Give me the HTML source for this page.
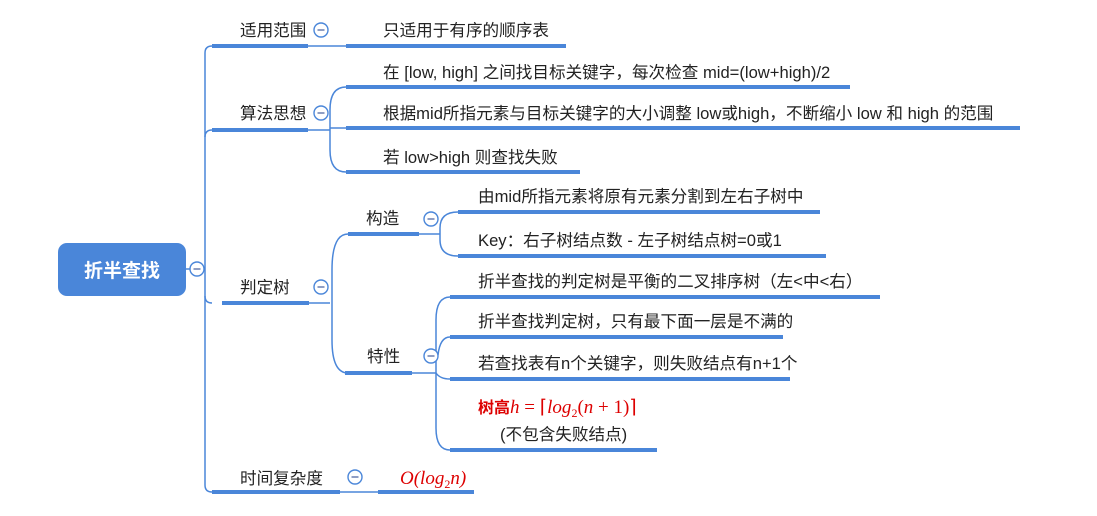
<!DOCTYPE html>
<html><head><meta charset="utf-8"><style>
html,body{margin:0;padding:0;background:#fff;}
svg text{font-family:"Liberation Sans","Noto Sans CJK SC",sans-serif;font-size:16.6px;fill:#222;}
</style></head><body>
<svg width="1097" height="511" viewBox="0 0 1097 511" xmlns="http://www.w3.org/2000/svg">
<g fill="none" stroke="#4a86d9" stroke-width="1.5">
<path d="M186 269 H205"/>
<path d="M212 46 Q205 46 205 53 V485 Q205 492 212 492"/>
<path d="M205 137 Q205 130 212 130"/>
<path d="M205 296 Q205 303 212 303"/>
<path d="M308 46 H346"/>
<path d="M308 130 H330"/>
<path d="M346 87 Q330 87 330 110 V150 Q330 172 346 172"/>
<path d="M330 128 H346"/>
<path d="M309 303 H330"/>
<path d="M348 234 Q332 234 332 270 V340 Q332 373 348 373"/>
<path d="M419 234 H440"/>
<path d="M458 212 Q440 212 440 228 V240 Q440 256 458 256"/>
<path d="M412 373 H436"/>
<path d="M450 297 Q436 297 436 320 V428 Q436 450 450 450"/>
<path d="M450 337 Q440 337 438 355"/>
<path d="M436 373 Q440 379 450 379"/>
<path d="M340 492 H378"/>
</g>
<g stroke="#4a86d9" stroke-width="4">
<path d="M212 46 H308"/><path d="M346 46 H566"/>
<path d="M212 130 H308"/>
<path d="M346 87 H850"/><path d="M346 128 H1020"/><path d="M346 172 H580"/>
<path d="M222 303 H309"/>
<path d="M348 234 H419"/><path d="M458 212 H820"/><path d="M458 256 H826"/>
<path d="M345 373 H412"/>
<path d="M450 297 H880"/><path d="M450 337 H783"/><path d="M450 379 H790"/><path d="M450 450 H657"/>
<path d="M212 492 H340"/><path d="M378 492 H474"/>
</g>
<rect x="58" y="243" width="128" height="53" rx="9" fill="#4a86d9"/>
<text x="122" y="277" text-anchor="middle" style="fill:#fff;font-size:19px;font-weight:bold">折半查找</text>
<g fill="#fff" stroke="#4a86d9" stroke-width="1.4">
<circle cx="197" cy="269" r="7"/><circle cx="321" cy="30" r="7"/><circle cx="321" cy="113" r="7"/>
<circle cx="321" cy="287" r="7"/><circle cx="431" cy="219" r="7"/><circle cx="431" cy="356" r="7"/>
<circle cx="355" cy="477" r="7"/>
</g>
<g stroke="#6a7fb0" stroke-width="1.4">
<path d="M193.5 269h7M317.5 30h7M317.5 113h7M317.5 287h7M427.5 219h7M427.5 356h7M351.5 477h7"/>
</g>
<text x="240" y="36">适用范围</text>
<text x="383" y="36">只适用于有序的顺序表</text>
<text x="240" y="119">算法思想</text>
<text x="383" y="78">在 [low, high] 之间找目标关键字，每次检查 mid=(low+high)/2</text>
<text x="383" y="119">根据mid所指元素与目标关键字的大小调整 low或high，不断缩小 low 和 high 的范围</text>
<text x="383" y="163">若 low&gt;high 则查找失败</text>
<text x="240" y="293">判定树</text>
<text x="366" y="224">构造</text>
<text x="478" y="202">由mid所指元素将原有元素分割到左右子树中</text>
<text x="478" y="246">Key：右子树结点数 - 左子树结点树=0或1</text>
<text x="367" y="362">特性</text>
<text x="478" y="287">折半查找的判定树是平衡的二叉排序树（左&lt;中&lt;右）</text>
<text x="478" y="327">折半查找判定树，只有最下面一层是不满的</text>
<text x="478" y="369">若查找表有n个关键字，则失败结点有n+1个</text>
<text x="478" y="413" style="fill:#d00;font-weight:bold;font-size:16px">树高<tspan style="font-family:'Liberation Serif',serif;font-style:italic;font-weight:normal;font-size:19px">h</tspan><tspan style="font-family:'Liberation Serif',serif;font-weight:normal;font-size:19px"> = ⌈<tspan font-style="italic">log</tspan><tspan font-size="12" dy="4">2</tspan><tspan dy="-4">(</tspan><tspan font-style="italic">n</tspan> + 1)⌉</tspan></text>
<text x="500" y="440">(不包含失败结点)</text>
<text x="240" y="484">时间复杂度</text>
<text x="400" y="484" style="fill:#d00;font-family:'Liberation Serif',serif;font-size:19px;font-style:italic">O(log<tspan font-size="12" dy="4" font-style="normal">2</tspan><tspan dy="-4">n)</tspan></text>
</svg>
</body></html>
